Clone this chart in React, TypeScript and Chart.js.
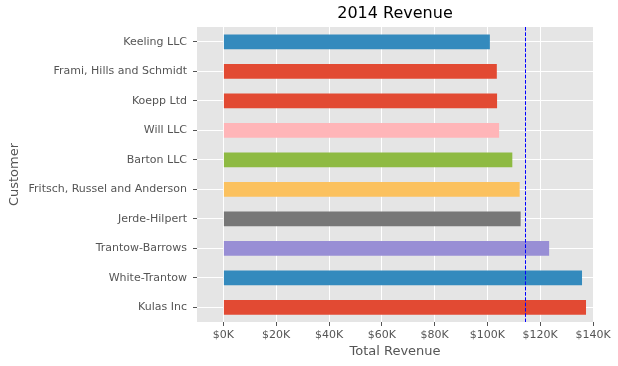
import React, { useEffect, useRef } from 'react';
import { Chart, registerables } from 'chart.js';

Chart.register(...registerables);

const customers = [
  'Keeling LLC',
  'Frami, Hills and Schmidt',
  'Koepp Ltd',
  'Will LLC',
  'Barton LLC',
  'Fritsch, Russel and Anderson',
  'Jerde-Hilpert',
  'Trantow-Barrows',
  'White-Trantow',
  'Kulas Inc',
];
const revenue = [
  100934.3, 103569.59, 103660.54, 104437.6, 109438.5, 112214.71, 112591.43,
  123381.38, 135841.99, 137351.96,
];
const barColors = [
  '#348ABD',
  '#E24A33',
  '#E24A33',
  '#FFB5B8',
  '#8EBA42',
  '#FBC15E',
  '#777777',
  '#988ED5',
  '#348ABD',
  '#E24A33',
];
const xTickValues = [0, 20000, 40000, 60000, 80000, 100000, 120000, 140000];
const xTickLabels = ['$0K', '$20K', '$40K', '$60K', '$80K', '$100K', '$120K', '$140K'];
const xMin = -10000;
const xMax = 140000;
const averageRevenue = revenue.reduce((a, b) => a + b, 0) / revenue.length;

const FONT = "'DejaVu Sans', sans-serif";

const bgPlugin = {
  id: 'plotBg',
  beforeDraw(chart: any) {
    const { ctx, chartArea } = chart;
    ctx.save();
    ctx.fillStyle = '#E5E5E5';
    ctx.fillRect(chartArea.left, chartArea.top, chartArea.right - chartArea.left, chartArea.bottom - chartArea.top);
    ctx.restore();
  },
};

const avgPlugin = {
  id: 'avgLine',
  afterDatasetsDraw(chart: any) {
    const { ctx, chartArea, scales } = chart;
    const x = Math.round(scales.x.getPixelForValue(averageRevenue)) + 0.5;
    ctx.save();
    ctx.strokeStyle = '#0000FF';
    ctx.lineWidth = 1;
    ctx.setLineDash([3.7, 1.6]);
    ctx.beginPath();
    ctx.moveTo(x, chartArea.top);
    ctx.lineTo(x, chartArea.bottom);
    ctx.stroke();
    ctx.restore();
  },
};

export default function App() {
  const ref = useRef<HTMLCanvasElement>(null);
  useEffect(() => {
    if (!ref.current) return;
    const chart = new Chart(ref.current, {
      type: 'bar',
      data: {
        labels: customers,
        datasets: [
          {
            label: 'Total Revenue',
            data: revenue,
            backgroundColor: barColors,
            borderWidth: 0,
            categoryPercentage: 1,
            barPercentage: 0.5,
          },
        ],
      },
      options: {
        indexAxis: 'y',
        animation: false,
        responsive: false,
        devicePixelRatio: 1,
        layout: { padding: { left: 0, right: 25, top: 0, bottom: 0 } },
        plugins: {
          legend: { display: false },
          tooltip: { enabled: false },
          title: {
            display: true,
            text: '2014 Revenue',
            color: '#000000',
            fullSize: false,
            font: { family: FONT, size: 16, weight: 'normal', lineHeight: 1.2 },
            padding: { top: 4, bottom: 3.8 },
          },
        },
        scales: {
          x: {
            type: 'linear',
            min: xMin,
            max: xMax,
            afterBuildTicks: (scale: any) => {
              scale.ticks = xTickValues.map((v) => ({ value: v }));
            },
            afterFit: (scale: any) => {
              scale.height = 44;
            },
            ticks: {
              autoSkip: false,
              maxRotation: 0,
              color: '#555555',
              padding: 3,
              font: { family: FONT, size: 11 },
              callback: (v: any) => {
                const i = xTickValues.indexOf(Number(v));
                return i >= 0 ? xTickLabels[i] : '';
              },
            },
            grid: {
              color: '#FFFFFF',
              lineWidth: 1,
              drawTicks: true,
              tickLength: 4,
              tickColor: '#555555',
            },
            border: { display: false },
            title: {
              display: true,
              text: 'Total Revenue',
              color: '#555555',
              font: { family: FONT, size: 13, lineHeight: 1.2 },
              padding: { top: 0, bottom: 7 },
            },
          },
          y: {
            type: 'category',
            afterFit: (scale: any) => {
              scale.width = 197;
            },
            ticks: {
              autoSkip: false,
              color: '#555555',
              padding: 6,
              font: { family: FONT, size: 11 },
            },
            grid: {
              color: '#FFFFFF',
              lineWidth: 1,
              offset: false,
              drawTicks: true,
              tickLength: 4,
              tickColor: '#555555',
            },
            border: { display: false },
            title: {
              display: true,
              text: 'Customer',
              color: '#555555',
              font: { family: FONT, size: 13, lineHeight: 1.2 },
              padding: { top: 7, bottom: 0 },
            },
          },
        },
      } as any,
      plugins: [bgPlugin, avgPlugin],
    });
    return () => chart.destroy();
  }, []);
  return (
    <div style={{ position: 'absolute', left: 0, top: 0, width: 618, height: 366, background: '#FFFFFF' }}>
      <canvas ref={ref} width={618} height={366} style={{ display: 'block' }} />
    </div>
  );
}
